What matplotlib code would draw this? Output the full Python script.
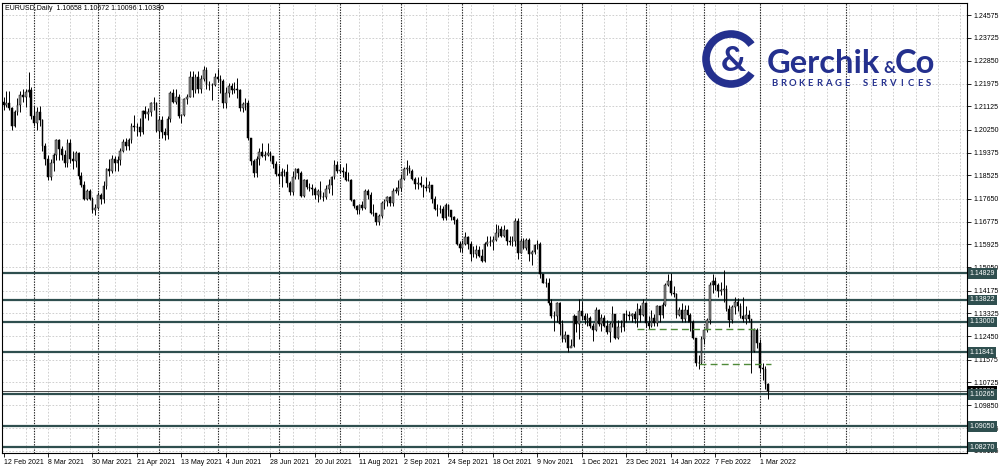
import matplotlib
matplotlib.use("Agg")
import matplotlib.pyplot as plt
import matplotlib.transforms as mtransforms
from matplotlib.patches import Arc
import numpy as np
import pandas as pd

plt.rcParams['font.family'] = ['Liberation Sans', 'DejaVu Sans']

# EURUSD daily bars, 12 Feb 2021 .. 4 Mar 2022
dates = pd.bdate_range("2021-02-12", "2022-03-04")
first_open = 1.2130
closes = [
    # Feb 2021
    1.2118, 1.2125, 1.2106, 1.2040, 1.2093, 1.2118, 1.2157, 1.2150, 1.2166, 1.2175, 1.2075,
    # Mar 2021
    1.2050, 1.2090, 1.2063, 1.1965, 1.1915, 1.1846, 1.1900, 1.1928, 1.1985, 1.1952, 1.1930,
    1.1900, 1.1975, 1.1915, 1.1905, 1.1935, 1.1850, 1.1815, 1.1765, 1.1795, 1.1765, 1.1720, 1.1730,
    # Apr 2021
    1.1780, 1.1762, 1.1812, 1.1875, 1.1870, 1.1915, 1.1900, 1.1910, 1.1945, 1.1980, 1.1965,
    1.1985, 1.2040, 1.2035, 1.2035, 1.2015, 1.2095, 1.2085, 1.2090, 1.2125, 1.2125, 1.2020,
    # May 2021
    1.2060, 1.2015, 1.2005, 1.2065, 1.2165, 1.2130, 1.2150, 1.2075, 1.2080, 1.2140, 1.2150,
    1.2225, 1.2175, 1.2225, 1.2180, 1.2215, 1.2250, 1.2193, 1.2195, 1.2193, 1.2225,
    # Jun 2021
    1.2215, 1.2210, 1.2125, 1.2165, 1.2190, 1.2175, 1.2180, 1.2175, 1.2105, 1.2120, 1.2125,
    1.1995, 1.1905, 1.1860, 1.1915, 1.1940, 1.1925, 1.1930, 1.1935, 1.1925, 1.1895, 1.1858,
    # Jul 2021
    1.1850, 1.1865, 1.1865, 1.1825, 1.1790, 1.1845, 1.1875, 1.1860, 1.1775, 1.1835, 1.1810,
    1.1805, 1.1800, 1.1780, 1.1795, 1.1770, 1.1770, 1.1800, 1.1815, 1.1845, 1.1890, 1.1870,
    # Aug 2021
    1.1870, 1.1865, 1.1835, 1.1835, 1.1760, 1.1735, 1.1720, 1.1740, 1.1730, 1.1795, 1.1780,
    1.1710, 1.1710, 1.1675, 1.1700, 1.1750, 1.1755, 1.1770, 1.1750, 1.1795, 1.1795, 1.1805,
    # Sep 2021
    1.1840, 1.1875, 1.1880, 1.1870, 1.1840, 1.1820, 1.1825, 1.1815, 1.1810, 1.1805, 1.1815,
    1.1765, 1.1725, 1.1725, 1.1725, 1.1690, 1.1740, 1.1720, 1.1695, 1.1685, 1.1595, 1.1580,
    # Oct 2021
    1.1595, 1.1620, 1.1595, 1.1555, 1.1555, 1.1570, 1.1550, 1.1530, 1.1595, 1.1600, 1.1600,
    1.1610, 1.1635, 1.1650, 1.1625, 1.1645, 1.1605, 1.1600, 1.1605, 1.1680, 1.1560,
    # Nov 2021
    1.1605, 1.1580, 1.1610, 1.1555, 1.1565, 1.1590, 1.1595, 1.1480, 1.1445, 1.1445, 1.1370,
    1.1320, 1.1320, 1.1370, 1.1290, 1.1235, 1.1250, 1.1200, 1.1210, 1.1320, 1.1290, 1.1340,
    # Dec 2021
    1.1320, 1.1305, 1.1315, 1.1285, 1.1270, 1.1345, 1.1290, 1.1315, 1.1285, 1.1260, 1.1290,
    1.1330, 1.1240, 1.1280, 1.1280, 1.1330, 1.1325, 1.1320, 1.1330, 1.1310, 1.1350, 1.1325, 1.1370,
    # Jan 2022
    1.1295, 1.1285, 1.1315, 1.1295, 1.1360, 1.1325, 1.1365, 1.1440, 1.1455, 1.1410, 1.1405,
    1.1325, 1.1345, 1.1310, 1.1345, 1.1325, 1.1300, 1.1240, 1.1145, 1.1145, 1.1235,
    # Feb 2022
    1.1270, 1.1305, 1.1440, 1.1455, 1.1440, 1.1415, 1.1420, 1.1425, 1.1350, 1.1305, 1.1355,
    1.1375, 1.1360, 1.1320, 1.1310, 1.1325, 1.1310, 1.1190, 1.1270, 1.1220,
    # Mar 2022
    1.1127, 1.1120, 1.1066, 1.1038,
]
highs = [
    1.2150, 1.2170, 1.2169, 1.2110, 1.2100, 1.2145, 1.2170, 1.2180, 1.2180, 1.2243, 1.2185,
    1.2113, 1.2110, 1.2115, 1.2065, 1.1975, 1.1930, 1.1915, 1.1935, 1.1990, 1.1990, 1.1965,
    1.1950, 1.1990, 1.1990, 1.1945, 1.1945, 1.1940, 1.1865, 1.1830, 1.1800, 1.1800, 1.1770, 1.1745,
    1.1790, 1.1785, 1.1830, 1.1880, 1.1915, 1.1930, 1.1925, 1.1925, 1.1955, 1.1990, 1.1995,
    1.1995, 1.2050, 1.2080, 1.2050, 1.2070, 1.2100, 1.2115, 1.2105, 1.2130, 1.2150, 1.2130,
    1.2075, 1.2075, 1.2030, 1.2075, 1.2172, 1.2180, 1.2180, 1.2160, 1.2085, 1.2145, 1.2160,
    1.2245, 1.2245, 1.2235, 1.2245, 1.2230, 1.2266, 1.2262, 1.2210, 1.2200, 1.2240,
    1.2254, 1.2230, 1.2215, 1.2185, 1.2200, 1.2200, 1.2205, 1.2218, 1.2180, 1.2130, 1.2145,
    1.2135, 1.1995, 1.1915, 1.1925, 1.1955, 1.1975, 1.1945, 1.1975, 1.1945, 1.1925, 1.1905,
    1.1890, 1.1880, 1.1875, 1.1895, 1.1830, 1.1870, 1.1880, 1.1880, 1.1870, 1.1840, 1.1840,
    1.1825, 1.1820, 1.1810, 1.1800, 1.1830, 1.1790, 1.1815, 1.1840, 1.1850, 1.1909, 1.1908,
    1.1895, 1.1885, 1.1900, 1.1865, 1.1840, 1.1765, 1.1740, 1.1745, 1.1755, 1.1800, 1.1800,
    1.1790, 1.1745, 1.1710, 1.1705, 1.1755, 1.1765, 1.1775, 1.1775, 1.1805, 1.1810, 1.1835,
    1.1857, 1.1885, 1.1909, 1.1890, 1.1875, 1.1845, 1.1845, 1.1850, 1.1815, 1.1845, 1.1830,
    1.1815, 1.1775, 1.1745, 1.1740, 1.1735, 1.1750, 1.1745, 1.1720, 1.1700, 1.1690, 1.1605,
    1.1610, 1.1640, 1.1625, 1.1605, 1.1585, 1.1590, 1.1585, 1.1575, 1.1600, 1.1625, 1.1625,
    1.1625, 1.1670, 1.1665, 1.1660, 1.1665, 1.1650, 1.1625, 1.1625, 1.1692, 1.1690,
    1.1615, 1.1615, 1.1615, 1.1615, 1.1570, 1.1595, 1.1610, 1.1600, 1.1480, 1.1465, 1.1465,
    1.1385, 1.1340, 1.1375, 1.1375, 1.1305, 1.1265, 1.1250, 1.1235, 1.1330, 1.1320, 1.1385,
    1.1380, 1.1335, 1.1335, 1.1320, 1.1295, 1.1355, 1.1350, 1.1330, 1.1325, 1.1305, 1.1300,
    1.1360, 1.1330, 1.1305, 1.1305, 1.1335, 1.1345, 1.1340, 1.1335, 1.1340, 1.1370, 1.1365, 1.1385,
    1.1375, 1.1320, 1.1345, 1.1330, 1.1365, 1.1360, 1.1375, 1.1445, 1.1482, 1.1483, 1.1435,
    1.1410, 1.1355, 1.1370, 1.1365, 1.1365, 1.1335, 1.1305, 1.1240, 1.1175, 1.1245,
    1.1275, 1.1315, 1.1450, 1.1480, 1.1470, 1.1445, 1.1450, 1.1495, 1.1440, 1.1365, 1.1365,
    1.1395, 1.1390, 1.1370, 1.1395, 1.1360, 1.1345, 1.1310, 1.1275, 1.1275,
    1.1235, 1.1145, 1.1135, 1.10672,
]
lows = [
    1.2100, 1.2110, 1.2100, 1.2023, 1.2035, 1.2080, 1.2090, 1.2130, 1.2110, 1.2150, 1.2065,
    1.2040, 1.2025, 1.2040, 1.1945, 1.1893, 1.1835, 1.1836, 1.1870, 1.1910, 1.1910, 1.1910,
    1.1885, 1.1885, 1.1900, 1.1875, 1.1885, 1.1840, 1.1810, 1.1760, 1.1760, 1.1760, 1.1710, 1.1704,
    1.1725, 1.1745, 1.1750, 1.1800, 1.1850, 1.1860, 1.1870, 1.1870, 1.1890, 1.1940, 1.1950,
    1.1950, 1.1975, 1.2020, 1.2000, 1.2000, 1.2010, 1.2070, 1.2060, 1.2075, 1.2100, 1.2015,
    1.1995, 1.1995, 1.1986, 1.1990, 1.2055, 1.2125, 1.2120, 1.2070, 1.2050, 1.2075, 1.2120,
    1.2150, 1.2150, 1.2165, 1.2165, 1.2165, 1.2210, 1.2180, 1.2175, 1.2135, 1.2190,
    1.2205, 1.2165, 1.2105, 1.2105, 1.2150, 1.2160, 1.2165, 1.2145, 1.2095, 1.2090, 1.2100,
    1.1985, 1.1892, 1.1847, 1.1845, 1.1890, 1.1920, 1.1910, 1.1925, 1.1905, 1.1880, 1.1850,
    1.1820, 1.1807, 1.1850, 1.1810, 1.1780, 1.1780, 1.1840, 1.1840, 1.1772, 1.1772, 1.1800,
    1.1795, 1.1780, 1.1765, 1.1752, 1.1765, 1.1755, 1.1765, 1.1785, 1.1780, 1.1840, 1.1860,
    1.1860, 1.1845, 1.1830, 1.1830, 1.1755, 1.1730, 1.1705, 1.1705, 1.1720, 1.1725, 1.1765,
    1.1705, 1.1700, 1.1665, 1.1664, 1.1690, 1.1725, 1.1735, 1.1735, 1.1735, 1.1785, 1.1780,
    1.1795, 1.1835, 1.1855, 1.1860, 1.1835, 1.1800, 1.1800, 1.1810, 1.1770, 1.1795, 1.1790,
    1.1750, 1.1720, 1.1700, 1.1710, 1.1685, 1.1685, 1.1700, 1.1685, 1.1670, 1.1590, 1.1565,
    1.1565, 1.1590, 1.1575, 1.1530, 1.1545, 1.1540, 1.1545, 1.1524, 1.1525, 1.1585, 1.1585,
    1.1570, 1.1605, 1.1620, 1.1620, 1.1620, 1.1590, 1.1590, 1.1585, 1.1585, 1.1535,
    1.1560, 1.1575, 1.1570, 1.1530, 1.1515, 1.1555, 1.1575, 1.1465, 1.1445, 1.1430, 1.1365,
    1.1315, 1.1265, 1.1300, 1.1250, 1.1225, 1.1225, 1.1186, 1.1205, 1.1205, 1.1260, 1.1235,
    1.1305, 1.1290, 1.1285, 1.1275, 1.1228, 1.1265, 1.1285, 1.1265, 1.1280, 1.1255, 1.1222,
    1.1280, 1.1235, 1.1235, 1.1260, 1.1265, 1.1300, 1.1305, 1.1300, 1.1295, 1.1280, 1.1300, 1.1320,
    1.1280, 1.1272, 1.1280, 1.1285, 1.1285, 1.1300, 1.1315, 1.1360, 1.1435, 1.1400, 1.1395,
    1.1315, 1.1320, 1.1300, 1.1300, 1.1300, 1.1265, 1.1235, 1.1135, 1.1121, 1.1140,
    1.1215, 1.1260, 1.1290, 1.1410, 1.1420, 1.1395, 1.1400, 1.1375, 1.1340, 1.1280, 1.1295,
    1.1330, 1.1340, 1.1315, 1.1300, 1.1290, 1.1300, 1.1106, 1.1185, 1.1200,
    1.1110, 1.1080, 1.1045, 1.10096,
]
header = "EURUSD,Daily  1.10658 1.10672 1.10096 1.10380"

price_ticks = [1.24575, 1.23725, 1.22850, 1.21975, 1.21125, 1.20250, 1.19375, 1.18525,
               1.17650, 1.16775, 1.15925, 1.15050, 1.14175, 1.13325, 1.12450, 1.11575,
               1.10725, 1.09850, 1.08975, 1.08125]
levels = [1.14829, 1.13822, 1.13000, 1.11841, 1.10265, 1.09050, 1.08270]
bid_price = 1.10380
# dashed green levels: (price, first date, last date)
dashed_levels = [(1.1272, "2021-12-29", "2022-03-01"), (1.1140, "2022-01-28", "2022-03-07")]
# extra separator drawn in the empty area right of the last bar (bars ahead)
future_separator = 303

opens = [first_open] + closes[:-1]
o = np.array(opens)
c = np.array(closes)
h = np.array(highs)
l = np.array(lows)
x = np.arange(len(c))

fig = plt.figure(figsize=(10, 4.67), dpi=100)
ax = fig.add_axes([0.002, 1 - 453 / 467, 0.965, 450 / 467])
ax.set_xlim(-0.54, 346.5)
ax.set_ylim(1.08049, 1.25028)

# grid
for p in price_ticks:
    ax.axhline(p, color='#c8c8c8', lw=0.6, ls=(0, (2, 2)), zorder=0)
for gx in range(8, 347, 8):
    ax.axvline(gx, color='#c8c8c8', lw=0.6, ls=(0, (2, 2)), zorder=0)

# month separators
months = dates.month
sep = [i for i in range(1, len(dates)) if months[i] != months[i - 1]] + [future_separator]
for sx in sep:
    ax.axvline(sx, color='#202020', lw=0.8, ls=(0, (1.2, 1.2)), zorder=1)

# candles
up = c >= o
ax.vlines(x, l, h, color='black', lw=0.7, zorder=3)
body_lo = np.minimum(o, c)
body_h = np.maximum(np.abs(c - o), 0.00012)
ax.bar(x[up], body_h[up], bottom=body_lo[up], width=0.62, color='#8c8c8c',
       edgecolor='black', lw=0.35, zorder=4)
ax.bar(x[~up], body_h[~up], bottom=body_lo[~up], width=0.62, color='black',
       edgecolor='black', lw=0.35, zorder=4)

# horizontal levels
trans = mtransforms.blended_transform_factory(ax.transAxes, ax.transData)
ax.axhline(bid_price, color='#303030', lw=0.6, zorder=2)
ax.text(1.003, bid_price, "1.10380", transform=trans, fontsize=5, color='white',
        va='center', ha='left', clip_on=False, zorder=5,
        bbox=dict(boxstyle='square,pad=0.25', fc='black', ec='none'))
for lv in levels:
    ax.axhline(lv, color='#2f4f4f', lw=1.6, zorder=2)
    ax.text(1.003, lv, f"{lv:.5f}", transform=trans, fontsize=5, color='white',
            va='center', ha='left', clip_on=False, zorder=6,
            bbox=dict(boxstyle='square,pad=0.25', fc='#2f4f4f', ec='none'))

for p, d0, d1 in dashed_levels:
    i0 = dates.searchsorted(pd.Timestamp(d0))
    i1 = dates.searchsorted(pd.Timestamp(d1))
    ax.hlines(p, i0, i1, color='#4f8a3a', lw=1.0, ls=(0, (5, 3)), zorder=5)

# axes
ax.yaxis.tick_right()
ax.set_yticks(price_ticks)
ax.set_yticklabels([f"{p:.5f}" for p in price_ticks], fontsize=5)
date_idx = list(range(0, len(dates), 16))
ax.set_xticks(date_idx)
ax.set_xticklabels([f"{dates[i].day} {dates[i].strftime('%b %Y')}" for i in date_idx], fontsize=5)
for t in ax.get_xticklabels():
    t.set_ha('left')
ax.tick_params(axis='both', length=3, width=0.6, pad=1.5, direction='out')
for s in ax.spines.values():
    s.set_linewidth(0.8)

# overlay in pixel units for header and logo
ov = fig.add_axes([0, 0, 1, 1], zorder=10)
ov.set_xlim(0, 1000)
ov.set_ylim(467, 0)
ov.axis('off')
ov.patch.set_alpha(0)
ov.text(5, 8, header, fontsize=5, va='center', ha='left')

navy = '#24308e'
ov.add_patch(Arc((731, 59), 50, 50, theta1=35, theta2=325, lw=5.5, color=navy))
ov.text(733, 61, "&", fontsize=25, fontweight='bold', color=navy, ha='center', va='center',
        family='Lato')
ov.text(767, 73, "Gerchik", fontsize=23.5, fontweight='bold', color=navy, ha='left',
        va='baseline', family='Lato')
ov.text(883, 73, "&", fontsize=12, fontweight='bold', color=navy, ha='left',
        va='baseline', family='Lato')
ov.text(895, 73, "Co", fontsize=23.5, fontweight='bold', color=navy, ha='left',
        va='baseline', family='Lato')
brk = "BROKERAGE SERVICES"
for k, ch in enumerate(brk):
    ov.text(774 + k * 9.1, 84, ch, fontsize=6.8, fontweight='bold', color=navy,
            ha='center', va='center', family='Lato')

fig.savefig("out.png", dpi=100)
